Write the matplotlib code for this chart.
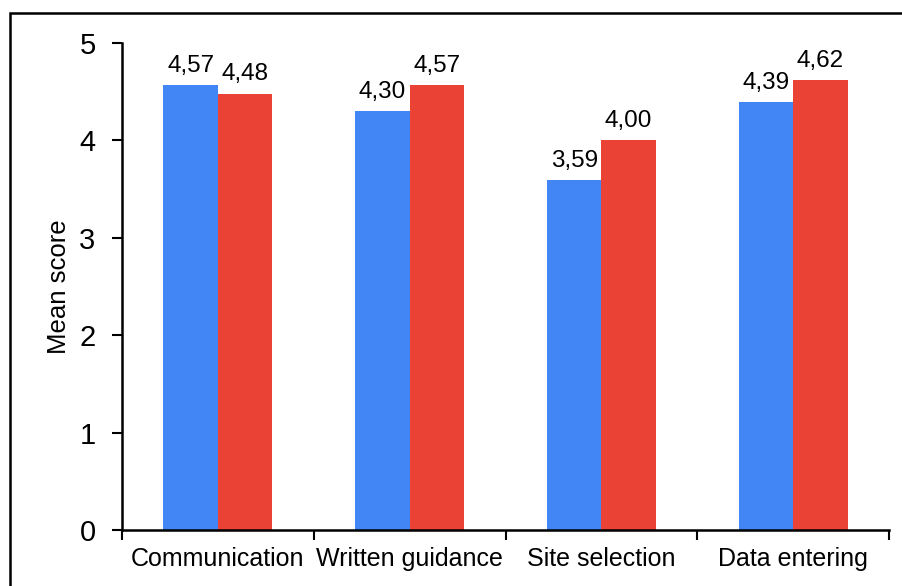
import matplotlib
matplotlib.use("Agg")
import matplotlib.pyplot as plt
import numpy as np
from matplotlib.patches import Rectangle
from matplotlib.ticker import FixedLocator, NullFormatter

plt.rcParams['font.family'] = ['Liberation Sans', 'DejaVu Sans']

categories = ['Communication', 'Written guidance', 'Site selection', 'Data entering']
group_a = [4.57, 4.30, 3.59, 4.39]
group_b = [4.48, 4.57, 4.00, 4.62]
blue = '#4285F4'
red = '#EA4335'

fig = plt.figure(figsize=(9.03, 5.86), dpi=100)
ax = fig.add_axes([122 / 903, 1 - 530 / 586, 767 / 903, 487 / 586])

x = np.arange(len(categories))
w = 0.284
bars_a = ax.bar(x - w / 2, group_a, w, color=blue)
bars_b = ax.bar(x + w / 2, group_b, w, color=red)

for bars, vals in ((bars_a, group_a), (bars_b, group_b)):
    for b, v in zip(bars, vals):
        ax.annotate(f'{v:.2f}'.replace('.', ','), (b.get_x() + b.get_width() / 2, v),
                    xytext=(0, 6), textcoords='offset points',
                    ha='center', va='bottom', fontsize=17.5)

ax.set_xlim(-0.5, len(categories) - 0.5)
ax.set_ylim(0, 5)
ax.set_yticks(range(6))
ax.tick_params(axis='y', labelsize=21, length=7, width=1.5, direction='out', pad=12)

# category ticks sit between groups, labels centred under each group
ax.xaxis.set_major_locator(FixedLocator(np.arange(-0.5, len(categories), 1)))
ax.xaxis.set_major_formatter(NullFormatter())
ax.xaxis.set_minor_locator(FixedLocator(x))
ax.set_xticklabels(categories, minor=True)
ax.tick_params(axis='x', which='major', length=7, width=1.5, direction='out')
ax.tick_params(axis='x', which='minor', length=0, labelsize=18, pad=12)

for s in ('top', 'right'):
    ax.spines[s].set_visible(False)
for s in ('left', 'bottom'):
    ax.spines[s].set_linewidth(1.8)

ax.set_ylabel('Mean score', fontsize=18.5)
ax.yaxis.set_label_coords(-0.066, 0.5)

# outer frame around the chart
fig.patches.append(Rectangle((10 / 903, -0.1), 1.1, 1.1 - 13 / 586,
                             transform=fig.transFigure, fill=False,
                             edgecolor='black', linewidth=1.8))

fig.savefig('out.png', dpi=100)
